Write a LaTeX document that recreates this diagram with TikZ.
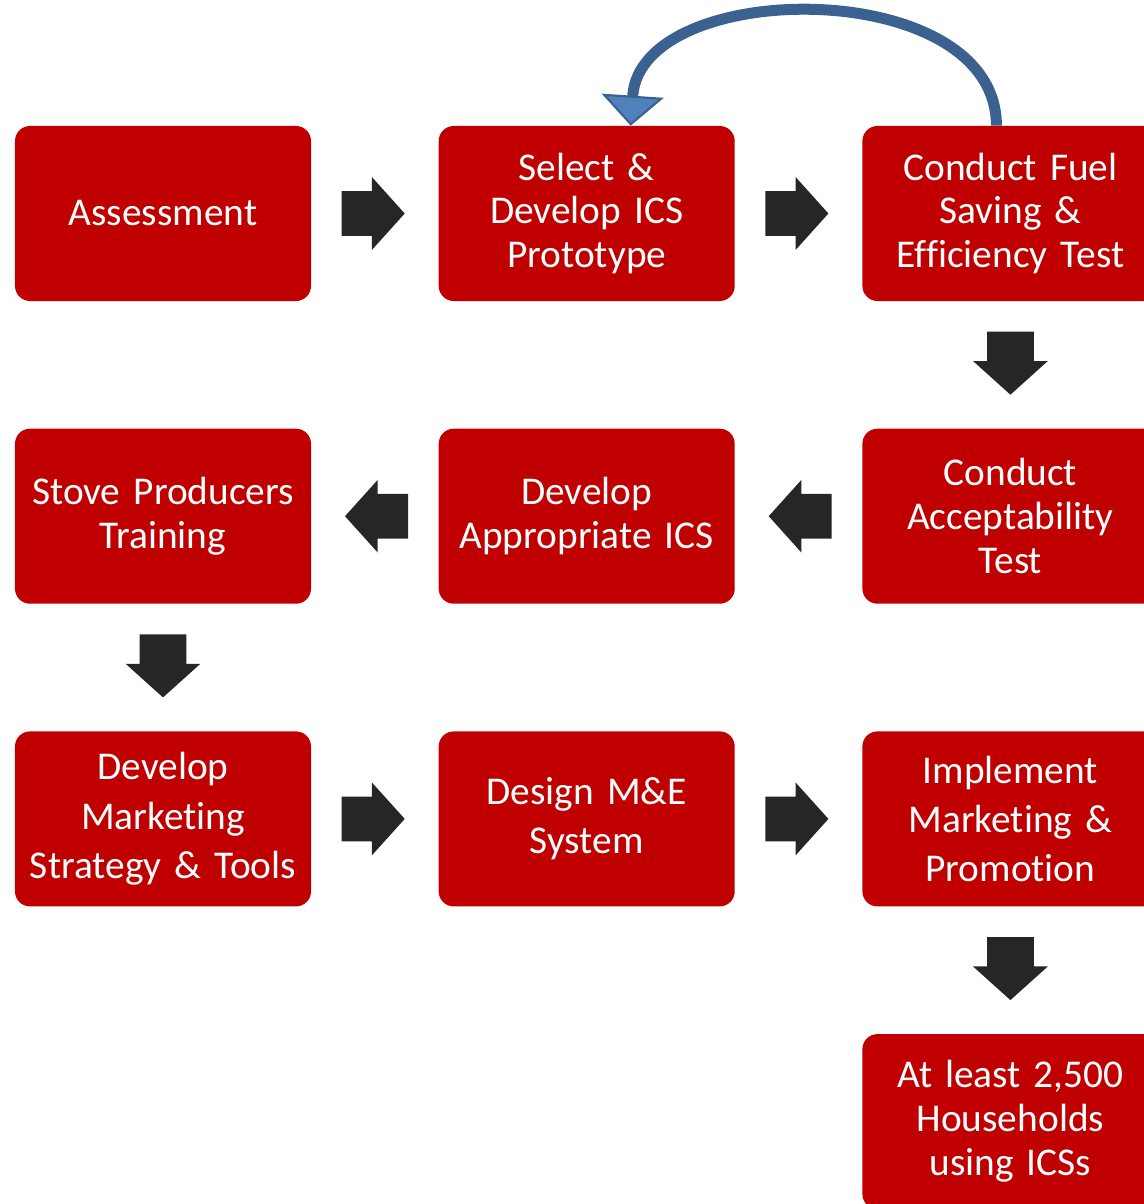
\documentclass[tikz,border=0pt]{standalone}
\usepackage{fontspec}
\setmainfont{Carlito}[Ligatures=NoCommon, WordSpace=0.8]
\usetikzlibrary{positioning, arrows.meta, shapes.arrows, calc}
\definecolor{stepred}{HTML}{C00000}
\definecolor{arrowgray}{HTML}{262626}
\definecolor{loopfill}{HTML}{4F81BD}
\definecolor{loopedge}{HTML}{3A6190}

\begin{document}
\begin{tikzpicture}[
            box/.style={rectangle, fill=stepred, rounded corners=0.3cm, minimum width=5.92cm,
                        minimum height=3.5cm, text width=5.7cm, align=center, text=white,
                        inner sep=0pt, font=\fontsize{22.4}{25}\selectfont},
            tallbox/.style={box, font=\fontsize{22.4}{28}\selectfont},
            blockarrow/.style={single arrow, fill=arrowgray, draw=none, inner xsep=0pt,
                        inner ysep=0.44cm, minimum height=1.26cm, anchor=tail,
                        single arrow head extend=0.28cm, single arrow tip angle=96,
                        single arrow head indent=0pt},
            rightarr/.style={blockarrow},
            leftarr/.style={blockarrow, shape border rotate=180},
            downarr/.style={blockarrow, shape border rotate=270, inner xsep=0.46cm, inner ysep=0pt},
            loopback/.style={loopedge, line width=0.22cm,
                        -{Triangle[length=0.6cm, width=1.24cm, fill=loopfill, line width=1.2pt]}},
            node distance=2.54cm,
        ]
            \useasboundingbox (0,0) rectangle (22.86,-24.08);

            % First row, left to right
            \node[box] (assess) at (3.26,-4.27) {Assessment};
            \node[box, right=of assess] (select) {Select \&\\Develop ICS\\Prototype};
            \node[box, right=of select] (fueltest) {Conduct Fuel\\Saving \&\\Efficiency Test};

            % Second row runs back to the left
            \node[box, below=of fueltest] (accept) {Conduct\\Acceptability\\Test};
            \node[box, below=of select] (approp) {Develop\\Appropriate ICS};
            \node[box, below=of assess] (training) {Stove Producers\\Training};

            % Third row, then the outcome
            \node[tallbox, below=of training] (strategy) {Develop\\Marketing\\Strategy \& Tools};
            \node[tallbox, below=of approp] (mande) {Design M\&E\\System};
            \node[tallbox, below=of accept] (promote) {Implement\\Marketing \&\\Promotion};
            \node[box, below=of promote] (households) {At least 2,500\\Households\\using ICSs};

            % Block arrows between the steps (placed by their tails)
            \node[rightarr] (a1) at ([xshift=0.6cm]assess.east) {};
            \node[rightarr] (a2) at ([xshift=0.6cm]select.east) {};
            \node[downarr]  (a3) at ([yshift=-0.6cm]fueltest.south) {};
            \node[leftarr]  (a4) at ([xshift=-0.6cm]accept.west) {};
            \node[leftarr]  (a5) at ([xshift=-0.6cm]approp.west) {};
            \node[downarr]  (a6) at ([yshift=-0.6cm]training.south) {};
            \node[rightarr] (a7) at ([xshift=0.6cm]strategy.east) {};
            \node[rightarr] (a8) at ([xshift=0.6cm]mande.east) {};
            \node[downarr]  (a9) at ([yshift=-0.6cm]promote.south) {};

            % Loop back from testing to the prototype
            \draw[loopback] ([xshift=-0.28cm]fueltest.north)
                .. controls +(0,3.02) and +(0.2,2.98) .. ([xshift=0.88cm]select.north);
        \end{tikzpicture}
\end{document}
